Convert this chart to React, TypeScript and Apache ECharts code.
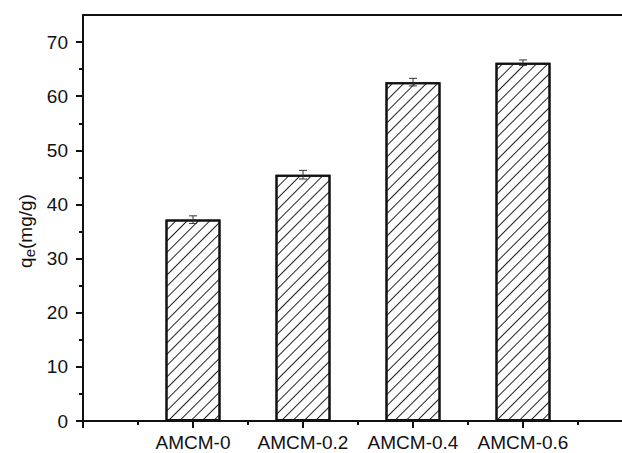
import React, { useEffect, useRef } from "react";
import * as echarts from "echarts";

// Adsorption capacity per sample
const categories = ["AMCM-0", "AMCM-0.2", "AMCM-0.4", "AMCM-0.6"];
const qeValues = [37.2, 45.5, 62.6, 66.2];
const qeErrors = [0.7, 0.8, 0.7, 0.5];

// Axis ticks
const yMajorTicks = [0, 10, 20, 30, 40, 50, 60, 70];
const yMinorTicks = [5, 15, 25, 35, 45, 55, 65];
const xMajorTicks = [0, 1, 2, 3, 4];
const xMinorTicks = [0.5, 1.5, 2.5, 3.5, 4.5];

const FONT = "'Liberation Sans', Arial, sans-serif";
const X_MAX = 4.9;
const Y_MAX = 75;

export default function App() {
  const ref = useRef<HTMLDivElement>(null);

  useEffect(() => {
    if (!ref.current) return;
    const chart = echarts.init(ref.current, null, { renderer: "svg" });

    const barData = qeValues.map((v, i) => [i + 1, v]);
    const errData = qeValues.map((v, i) => [i + 1, v - qeErrors[i], v + qeErrors[i]]);

    const lineStyle = { color: "#111", width: 2 };

    chart.setOption({
      animation: false,
      backgroundColor: "#fff",
      grid: { left: 83, right: 0, top: 15, bottom: 32 },
      xAxis: [
        {
          type: "value",
          position: "bottom",
          min: 0,
          max: X_MAX,
          axisLine: { show: true, lineStyle },
          axisTick: {
            show: true,
            inside: false,
            length: 7,
            lineStyle: { color: "#111", width: 2 },
            customValues: xMajorTicks,
          },
          axisLabel: {
            show: true,
            margin: 12,
            fontSize: 19,
            fontFamily: FONT,
            color: "#111",
            customValues: [1, 2, 3, 4],
            formatter: (v: number) => categories[Math.round(v) - 1] ?? "",
          },
          splitLine: { show: false },
        },
        {
          type: "value",
          position: "bottom",
          min: 0,
          max: X_MAX,
          axisLine: { show: false },
          axisTick: {
            show: true,
            length: 4,
            lineStyle: { color: "#111", width: 2 },
            customValues: xMinorTicks,
          },
          axisLabel: { show: false },
          splitLine: { show: false },
        },
        {
          type: "value",
          position: "top",
          min: 0,
          max: X_MAX,
          axisLine: { show: true, onZero: false, lineStyle },
          axisTick: { show: false },
          axisLabel: { show: false },
          splitLine: { show: false },
        },
      ],
      yAxis: [
        {
          type: "value",
          position: "left",
          min: 0,
          max: Y_MAX,
          axisLine: { show: true, lineStyle },
          axisTick: {
            show: true,
            length: 7,
            lineStyle: { color: "#111", width: 2 },
            customValues: yMajorTicks,
          },
          axisLabel: {
            show: true,
            margin: 15,
            fontSize: 19,
            fontFamily: FONT,
            color: "#111",
            customValues: yMajorTicks,
          },
          splitLine: { show: false },
        },
        {
          type: "value",
          position: "left",
          min: 0,
          max: Y_MAX,
          axisLine: { show: false },
          axisTick: {
            show: true,
            length: 4,
            lineStyle: { color: "#111", width: 2 },
            customValues: yMinorTicks,
          },
          axisLabel: { show: false },
          splitLine: { show: false },
        },
      ],
      graphic: [
        {
          type: "text",
          x: 25,
          y: 231,
          rotation: Math.PI / 2,
          style: {
            text: "{a|q}{b|e}{a|(mg/g)}",
            align: "center",
            verticalAlign: "middle",
            rich: {
              a: { fontSize: 19, fontFamily: FONT, fill: "#111", lineHeight: 24, verticalAlign: "middle" },
              b: { fontSize: 15, fontFamily: FONT, fill: "#111", lineHeight: 24, verticalAlign: "bottom", padding: [6, 0, 0, 0] },
            },
          },
        },
      ],
      series: [
        {
          type: "bar",
          xAxisIndex: 0,
          yAxisIndex: 0,
          data: barData,
          barWidth: 55,
          itemStyle: {
            color: "#fff",
            borderColor: "#111",
            borderWidth: 2,
            decal: {
              symbol: "rect",
              symbolSize: 1,
              dashArrayX: [1, 0],
              dashArrayY: [1, 7],
              rotation: -Math.PI / 4,
              color: "#222",
              backgroundColor: "#fff",
            },
          },
          z: 2,
        },
        {
          type: "custom",
          xAxisIndex: 0,
          yAxisIndex: 0,
          data: errData,
          z: 3,
          renderItem: (params: any, api: any) => {
            const x = api.value(0);
            const lo = api.coord([x, api.value(1)]);
            const hi = api.coord([x, api.value(2)]);
            const half = 4;
            const style = { stroke: "#333", lineWidth: 1 };
            return {
              type: "group",
              children: [
                { type: "line", shape: { x1: lo[0], y1: lo[1], x2: hi[0], y2: hi[1] }, style },
                { type: "line", shape: { x1: hi[0] - half, y1: hi[1], x2: hi[0] + half, y2: hi[1] }, style },
                { type: "line", shape: { x1: lo[0] - half, y1: lo[1], x2: lo[0] + half, y2: lo[1] }, style },
              ],
            };
          },
        },
      ],
    });

    return () => chart.dispose();
  }, []);

  return (
    <div
      ref={ref}
      style={{ position: "fixed", left: 0, top: 0, width: 622, height: 453 }}
    />
  );
}
